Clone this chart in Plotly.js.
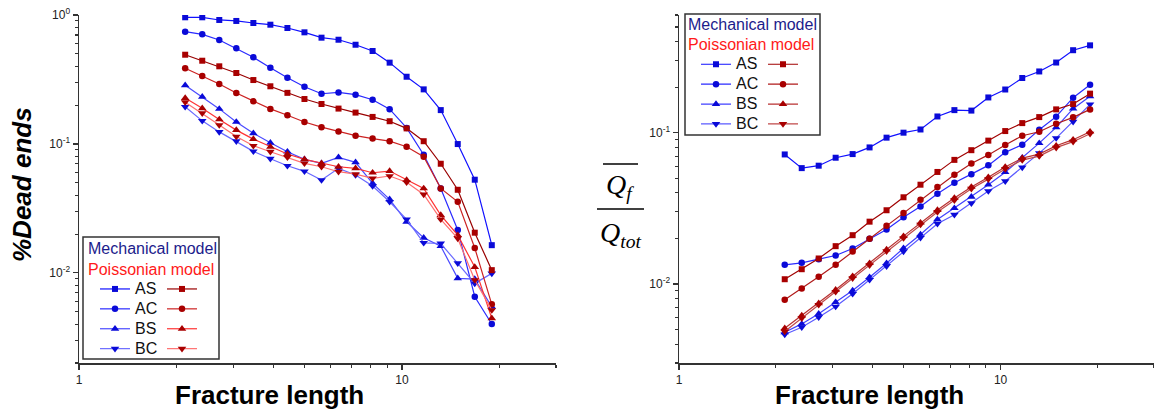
<!DOCTYPE html>
<html>
<head>
<meta charset="utf-8">
<script src="https://cdn.plot.ly/plotly-3.0.1.min.js"></script>
<style>html,body{margin:0;padding:0;background:#fff;}#chart{width:1154px;height:412px;}</style>
</head>
<body>
<div id="chart"></div>
<script>
// ---------- data ----------
const fractureLength = [2.132, 2.408, 2.719, 3.070, 3.467, 3.914, 4.420, 4.991, 5.636, 6.363, 7.185, 8.113, 9.161, 10.34, 11.68, 13.19, 14.89, 16.81, 18.98];
const seriesNames = ['AS', 'AC', 'BS', 'BC'];

// %Dead ends (left panel)
const deadMechAS = [0.960, 0.960, 0.915, 0.899, 0.867, 0.841, 0.793, 0.734, 0.667, 0.643, 0.588, 0.526, 0.427, 0.332, 0.265, 0.183, 0.0998, 0.0528, 0.0164];
const deadMechAC = [0.742, 0.708, 0.640, 0.552, 0.470, 0.390, 0.326, 0.278, 0.245, 0.251, 0.241, 0.220, 0.186, 0.133, 0.0824, 0.0452, 0.0215, 0.00653, 0.00401];
const deadMechBS = [0.285, 0.232, 0.187, 0.148, 0.121, 0.102, 0.0870, 0.0760, 0.0707, 0.0787, 0.0720, 0.0495, 0.0372, 0.0249, 0.0187, 0.0161, 0.00907, 0.00895, 0.00546];
const deadMechBC = [0.194, 0.151, 0.124, 0.105, 0.0876, 0.0768, 0.0677, 0.0613, 0.0525, 0.0647, 0.0574, 0.0471, 0.0356, 0.0260, 0.0171, 0.0169, 0.0119, 0.00829, 0.00991];
const deadPoisAS = [0.492, 0.442, 0.400, 0.355, 0.313, 0.280, 0.249, 0.223, 0.204, 0.188, 0.175, 0.162, 0.150, 0.132, 0.105, 0.0702, 0.0441, 0.0205, 0.0105];
const deadPoisAC = [0.386, 0.336, 0.292, 0.248, 0.214, 0.187, 0.167, 0.148, 0.135, 0.125, 0.116, 0.110, 0.105, 0.0951, 0.0796, 0.0452, 0.0356, 0.0156, 0.00570];
const deadPoisBS = [0.227, 0.189, 0.155, 0.128, 0.109, 0.0951, 0.0835, 0.0760, 0.0707, 0.0665, 0.0647, 0.0598, 0.0616, 0.0525, 0.0452, 0.0281, 0.0196, 0.0111, 0.00444];
const deadPoisBC = [0.211, 0.173, 0.140, 0.114, 0.0968, 0.0870, 0.0787, 0.0707, 0.0665, 0.0609, 0.0584, 0.0541, 0.0564, 0.0504, 0.0406, 0.0260, 0.0185, 0.00879, 0.00515];

// Qf / Qtot (right panel)
const flowMechAS = [0.0718, 0.0583, 0.0605, 0.0683, 0.0722, 0.0799, 0.0927, 0.100, 0.105, 0.128, 0.141, 0.140, 0.171, 0.193, 0.230, 0.254, 0.291, 0.351, 0.378];
const flowMechAC = [0.01338, 0.01379, 0.01457, 0.01542, 0.01715, 0.01989, 0.0229, 0.0276, 0.0325, 0.0394, 0.0466, 0.0532, 0.0608, 0.0741, 0.0833, 0.1047, 0.1276, 0.1704, 0.2078];
const flowMechBS = [0.00479, 0.00544, 0.00634, 0.00757, 0.00904, 0.01107, 0.01371, 0.01723, 0.0212, 0.0267, 0.0317, 0.0377, 0.0453, 0.0548, 0.0683, 0.0853, 0.1084, 0.1442, 0.1739];
const flowMechBC = [0.00463, 0.00517, 0.00602, 0.00709, 0.00860, 0.01064, 0.01310, 0.01639, 0.0202, 0.0250, 0.0287, 0.0342, 0.0411, 0.0478, 0.0589, 0.0733, 0.0921, 0.1183, 0.1539];
const flowPoisAS = [0.01074, 0.01251, 0.01473, 0.01777, 0.0210, 0.0258, 0.0307, 0.0374, 0.0453, 0.0550, 0.0661, 0.0766, 0.0886, 0.1025, 0.1157, 0.1268, 0.1426, 0.1546, 0.1812];
const flowPoisAC = [0.00785, 0.00932, 0.01114, 0.01338, 0.01639, 0.01989, 0.0242, 0.0294, 0.0360, 0.0437, 0.0527, 0.0626, 0.0713, 0.0828, 0.0955, 0.1015, 0.1147, 0.1263, 0.1426];
const flowPoisBS = [0.00509, 0.00618, 0.00745, 0.00914, 0.01125, 0.01371, 0.01689, 0.0207, 0.0254, 0.0308, 0.0370, 0.0438, 0.0508, 0.0594, 0.0679, 0.0722, 0.0820, 0.0899, 0.1015];
const flowPoisBC = [0.00484, 0.00593, 0.00727, 0.00887, 0.01091, 0.01330, 0.01646, 0.0201, 0.0247, 0.0299, 0.0358, 0.0426, 0.0493, 0.0576, 0.0659, 0.0700, 0.0796, 0.0872, 0.0985];

// ---------- style ----------
const W = 1154, H = 412;
const px = v => v / W;
const py = v => 1 - v / H;
const FONT = 'Liberation Sans, Arial, sans-serif';
const symbols = ['square', 'circle', 'triangle-up', 'triangle-down'];
const sizes = [6, 6.5, 7.5, 7.5];
const blueLinesL = ['#1010ff', '#2a2aff', '#4a4aff', '#6a6aff'];
const redLinesL = ['#990000', '#cc2222', '#ff3333', '#ff6f6f'];
const blueLinesR = ['#1010ff', '#2a2aff', '#4040ff', '#5a5aff'];
const redLinesR = ['#a00000', '#b01a1a', '#b83030', '#c04848'];
const blueMarker = '#0a0ad8';
const redMarker = '#a80000';

const deadMech = [deadMechAS, deadMechAC, deadMechBS, deadMechBC];
const deadPois = [deadPoisAS, deadPoisAC, deadPoisBS, deadPoisBC];
const flowMech = [flowMechAS, flowMechAC, flowMechBS, flowMechBC];
const flowPois = [flowPoisAS, flowPoisAC, flowPoisBS, flowPoisBC];

const traces = [];
function addSeries(ys, i, xa, ya, lineColor, markerColor, legendId, label) {
  traces.push({
    x: fractureLength, y: ys, xaxis: xa, yaxis: ya,
    type: 'scatter', mode: 'lines+markers',
    name: label, legend: legendId, showlegend: true,
    line: {color: lineColor, width: 1.2},
    marker: {symbol: symbols[i], size: sizes[i], color: markerColor, line: {width: 0}},
    hoverinfo: 'skip'
  });
}
const lbl = s => '<span style="font-size:16px">' + s + '</span>';
for (let i = 0; i < 4; i++) addSeries(deadMech[i], i, 'x', 'y', blueLinesL[i], blueMarker, 'legend', lbl(seriesNames[i]));
for (let i = 0; i < 4; i++) addSeries(deadPois[i], i, 'x', 'y', redLinesL[i], redMarker, 'legend2', ' ');
for (let i = 0; i < 4; i++) addSeries(flowMech[i], i, 'x2', 'y2', blueLinesR[i], blueMarker, 'legend3', lbl(seriesNames[i]));
for (let i = 0; i < 4; i++) addSeries(flowPois[i], i, 'x2', 'y2', redLinesR[i], redMarker, 'legend4', ' ');

// ticks
const xMajor = [1, 10];
const xMinor = [2, 3, 4, 5, 6, 7, 8, 9, 20, 30];
const yMajorL = [0.01, 0.1, 1];
const yMinorL = [0.002, 0.003, 0.004, 0.005, 0.006, 0.007, 0.008, 0.009, 0.02, 0.03, 0.04, 0.05, 0.06, 0.07, 0.08, 0.09, 0.2, 0.3, 0.4, 0.5, 0.6, 0.7, 0.8, 0.9];
const yMajorR = [0.01, 0.1];
const yMinorR = [0.003, 0.004, 0.005, 0.006, 0.007, 0.008, 0.009, 0.02, 0.03, 0.04, 0.05, 0.06, 0.07, 0.08, 0.09, 0.2, 0.3, 0.4, 0.5, 0.6];
const decText = v => '10<sup>' + Math.round(Math.log10(v)) + '</sup>';

const axisCommon = {
  type: 'log', showgrid: false, zeroline: false, showline: true,
  linecolor: '#333', linewidth: 1.5, ticks: 'outside', ticklen: 5, tickwidth: 1.2,
  tickcolor: '#333', tickmode: 'array', automargin: false, fixedrange: true,
  tickfont: {family: FONT, size: 12, color: '#222'}
};
const minorCommon = {ticks: 'outside', ticklen: 3, tickwidth: 1.1, tickcolor: '#333', showgrid: false};

const xAxis = (dom, anchor) => Object.assign({}, axisCommon, {
  domain: dom, anchor: anchor, range: [0, Math.log10(30)],
  tickvals: xMajor, ticktext: xMajor.map(String),
  minor: Object.assign({tickvals: xMinor}, minorCommon)
});

const yDom = [py(363), py(15)];
const layout = {
  width: W, height: H, margin: {l: 0, r: 0, t: 0, b: 0},
  paper_bgcolor: '#fff', plot_bgcolor: 'rgba(0,0,0,0)',
  hovermode: false,
  xaxis: xAxis([px(79), px(556)], 'y'),
  xaxis2: xAxis([px(679), 1], 'y2'),
  yaxis: Object.assign({}, axisCommon, {
    domain: yDom, anchor: 'x', range: [Math.log10(0.002), 0],
    tickvals: yMajorL, ticktext: yMajorL.map(decText),
    minor: Object.assign({tickvals: yMinorL}, minorCommon)
  }),
  yaxis2: Object.assign({}, axisCommon, {
    domain: yDom, anchor: 'x2', range: [Math.log10(0.003), Math.log10(0.6)],
    tickvals: yMajorR, ticktext: yMajorR.map(decText),
    minor: Object.assign({tickvals: yMinorR}, minorCommon)
  }),
  legend: {}, legend2: {}, legend3: {}, legend4: {},
  annotations: [],
  shapes: []
};
const legendBase = {
  xanchor: 'left', yanchor: 'top', bgcolor: 'rgba(0,0,0,0)', borderwidth: 0,
  font: {family: FONT, size: 13, color: '#111'}, tracegroupgap: 0, itemclick: false, itemdoubleclick: false
};
layout.legend = Object.assign({}, legendBase, {x: px(95), y: py(274)});
layout.legend2 = Object.assign({}, legendBase, {x: px(162), y: py(274)});
layout.legend3 = Object.assign({}, legendBase, {x: px(696), y: py(49.3)});
layout.legend4 = Object.assign({}, legendBase, {x: px(763), y: py(49.3)});

// legend boxes
function box(x0, y0, x1, y1) {
  layout.shapes.push({type: 'rect', xref: 'paper', yref: 'paper', x0: px(x0), x1: px(x1), y0: py(y1), y1: py(y0),
    line: {color: '#333', width: 1.5}, fillcolor: 'rgba(0,0,0,0)', layer: 'above'});
}
box(83, 237, 219, 359);
box(685, 14, 820, 135);

function note(text, x, y, opts) {
  layout.annotations.push(Object.assign({
    text: text, xref: 'paper', yref: 'paper', x: px(x), y: py(y),
    xanchor: 'center', yanchor: 'middle', showarrow: false,
    font: {family: FONT, size: 16, color: '#000'}
  }, opts || {}));
}
// legend headers
note('Mechanical model', 152.5, 249, {font: {family: FONT, size: 16, color: '#1c1c8c'}});
note('Poissonian model', 151, 269, {font: {family: FONT, size: 16, color: '#ff1a1a'}});
note('Mechanical model', 752.5, 25, {font: {family: FONT, size: 16, color: '#1c1c8c'}});
note('Poissonian model', 751, 44.5, {font: {family: FONT, size: 16, color: '#ff1a1a'}});

// axis titles
note('<b>Fracture length</b>', 269.5, 395, {font: {family: FONT, size: 26, color: '#000'}});
note('<b>Fracture length</b>', 869.5, 395, {font: {family: FONT, size: 26, color: '#000'}});
note('<b><i>%Dead ends</i></b>', 22, 185, {textangle: -90, font: {family: FONT, size: 26, color: '#000'}});

// right y title: overline(Qf) / Qtot
const SERIF = 'Liberation Serif, Times New Roman, serif';
note('<i>Q<sub>f</sub></i>', 620, 186, {font: {family: SERIF, size: 28, color: '#000'}});
note('<i>Q<sub>tot</sub></i>', 620, 234, {font: {family: SERIF, size: 28, color: '#000'}});
function hline(x0, x1, y) {
  layout.shapes.push({type: 'line', xref: 'paper', yref: 'paper', x0: px(x0), x1: px(x1), y0: py(y), y1: py(y),
    line: {color: '#000', width: 1.5}});
}
hline(603, 638, 164);
hline(597, 644, 209);

Plotly.newPlot('chart', traces, layout, {staticPlot: true, displayModeBar: false});
</script>
</body>
</html>
